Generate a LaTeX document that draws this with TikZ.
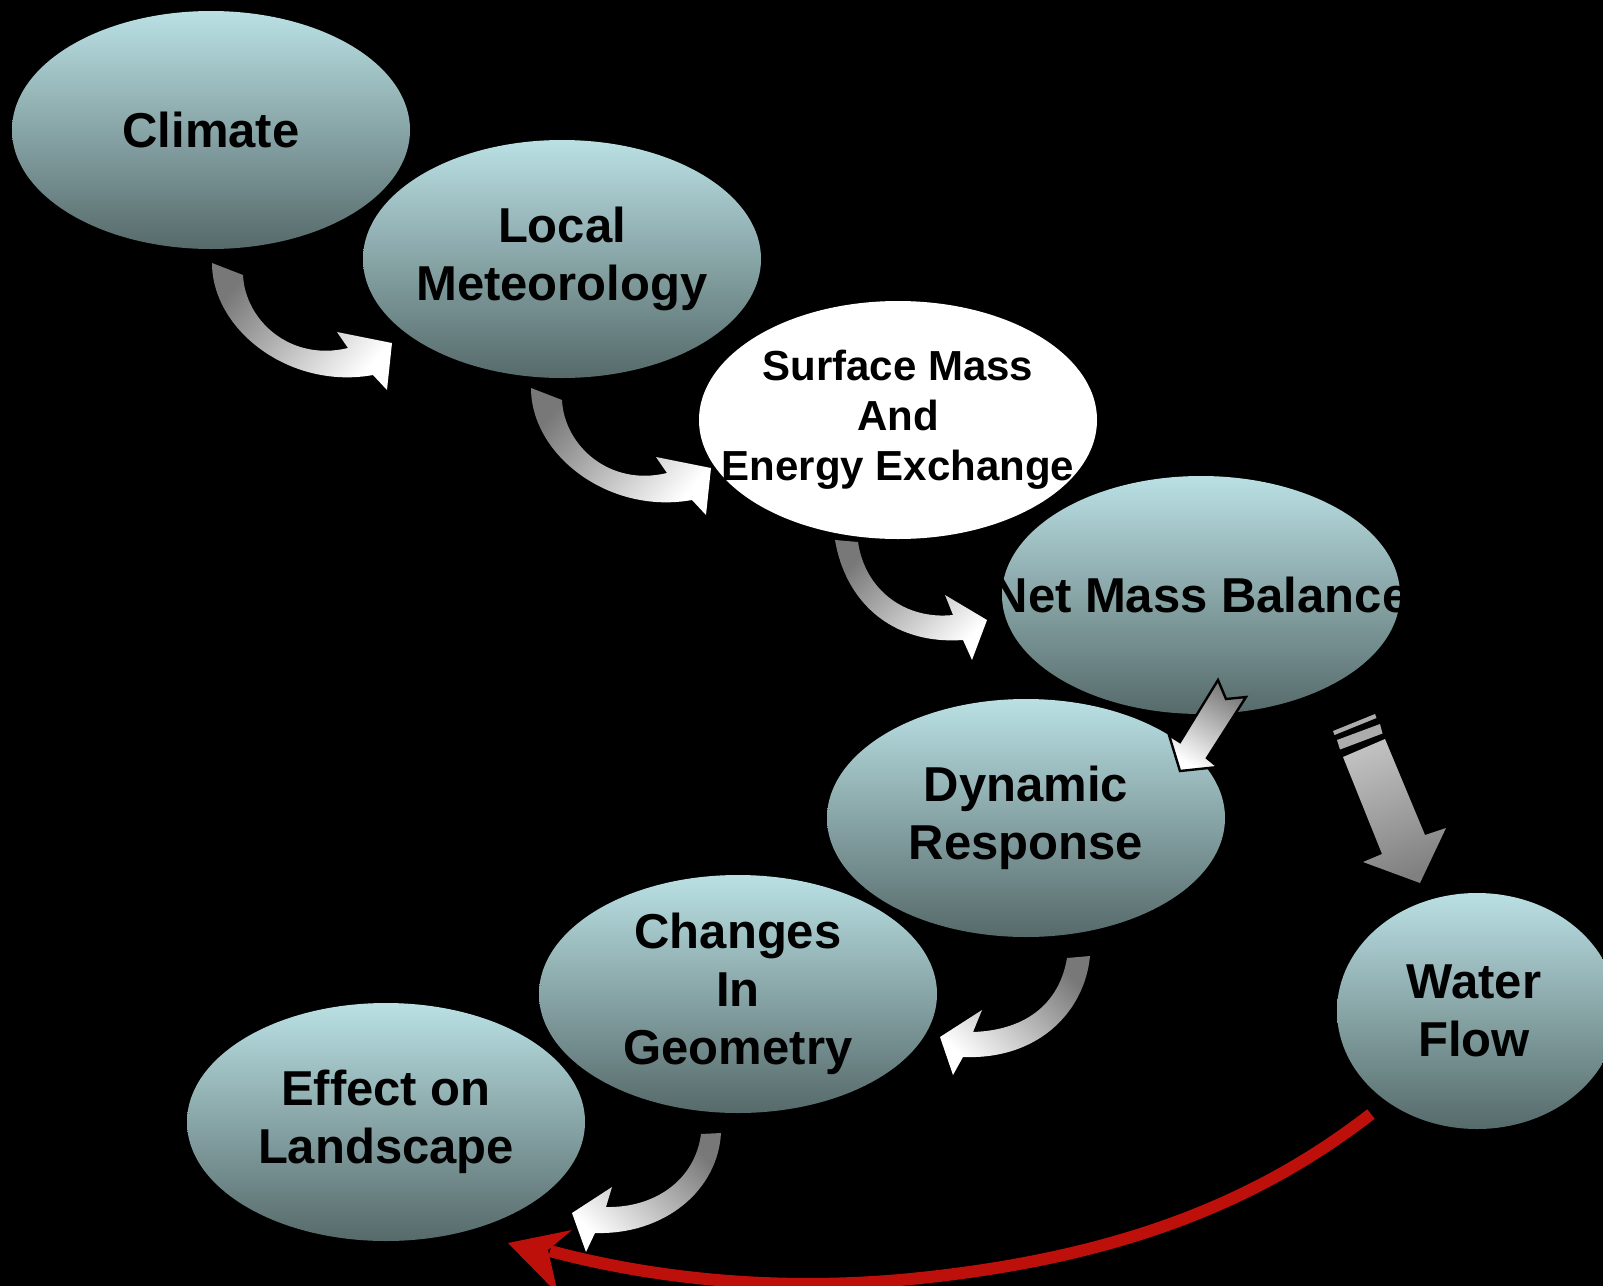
\documentclass[tikz,border=0pt]{standalone}
\usepackage{fontspec}
\setmainfont{Liberation Sans}
\usetikzlibrary{shapes.geometric}
\definecolor{elltop}{RGB}{186,224,228}
\definecolor{ellbot}{RGB}{86,106,106}
\definecolor{arrgray}{RGB}{120,120,120}
\definecolor{biglight}{RGB}{192,192,192}
\definecolor{bigdark}{RGB}{128,128,128}
\definecolor{stripegray}{RGB}{172,172,172}
\definecolor{redc}{RGB}{190,16,10}
\begin{document}
\begin{tikzpicture}[x=0.5pt,y=-0.5pt,
  bub/.style={ellipse, minimum width=199pt, minimum height=119pt, inner sep=0pt, draw=none},
  bubble/.style={bub, top color=elltop, bottom color=ellbot},
  surf/.style={bub, fill=white},
  txt/.style={align=center, inner sep=0pt, font=\fontsize{24.5}{29}\selectfont\bfseries},
  stxt/.style={align=center, inner sep=0pt, font=\fontsize{21}{25}\selectfont\bfseries},
  curvarrow/.style={top color=arrgray, bottom color=white, draw=none},
  redline/.style={draw=redc, line width=6pt},
]
\useasboundingbox (0,0) rectangle (1603,1286);
\fill[black] (0,0) rectangle (1603,1286);
\clip (0,0) rectangle (1603,1286);

% ellipses
\node[bubble] (climate) at (211,130) {};
\node[txt] (climate-t) at (climate) {Climate};
\node[bubble] (local) at (562,259) {};
\node[txt] (local-t) at (local) {Local\\Meteorology};
\node[surf] (surface) at (898,420) {};
\node[stxt] (surface-t) at (surface) {Surface Mass\\And\\Energy Exchange};
\node[bubble] (net) at (1201,595) {};
\node[txt] (net-t) at (net) {Net Mass Balance};
\node[bubble] (dynamic) at (1026,818) {};
\node[txt] (dynamic-t) at (dynamic) {Dynamic\\Response};
\node[bubble] (changes) at (738,994) {};
\node[txt] (changes-t) at (changes) {Changes\\In\\Geometry};
\node[bubble] (effect) at (386,1122) {};
\node[txt] (effect-t) at (effect) {Effect on\\Landscape};
\node[bubble, minimum width=140pt, minimum height=118pt] (water) at (1477,1011) {};
\node[txt] (water-t) at (1474,1011) {Water\\Flow};

% curved block arrows
\path[curvarrow, shading angle=50]
  (212,263) .. controls (212,330) and (290,390) .. (373,375) -- (387,390) -- (392,343)
  -- (337,332) -- (348,348) .. controls (290,362) and (245,320) .. (243,275) -- cycle;
\begin{scope}[shift={(319,125)}]
\path[curvarrow, shading angle=50]
  (212,263) .. controls (212,330) and (290,390) .. (373,375) -- (387,390) -- (392,343)
  -- (337,332) -- (348,348) .. controls (290,362) and (245,320) .. (243,275) -- cycle;
\end{scope}
\path[curvarrow, shading angle=45]
  (835,540) .. controls (845,600) and (890,645) .. (963,640) -- (972,660) -- (987,620)
  -- (945,595) -- (953,615) .. controls (905,620) and (865,590) .. (858,542) -- cycle;
\path[curvarrow, shading angle=-45]
  (1090,956) .. controls (1085,1010) and (1040,1060) .. (963,1057) -- (953,1075) -- (940,1037)
  -- (982,1010) -- (973,1032) .. controls (1030,1030) and (1060,1000) .. (1067,958) -- cycle;
\path[curvarrow, shading angle=-45]
  (721,1133) .. controls (718,1190) and (665,1235) .. (595,1233) -- (586,1252) -- (572,1213)
  -- (612,1187) -- (606,1207) .. controls (655,1208) and (695,1180) .. (701,1134) -- cycle;

% small notched arrow Net -> Dynamic
\path[draw=black, line width=1.2pt, line join=miter, top color=arrgray, bottom color=white, shading angle=-30]
  (1218,680) -- (1226,699) -- (1246,697) -- (1207,758) -- (1218,767) -- (1180,771)
  -- (1169,735) -- (1180,742) -- cycle;

% big striped arrow Net -> Water
\fill[stripegray] (1333,731) -- (1375,714) -- (1376.5,718) -- (1334.5,735) -- cycle;
\fill[stripegray] (1337,740) -- (1380,724) -- (1382.5,733.5) -- (1340,749.5) -- cycle;
\path[top color=biglight, bottom color=bigdark, shading angle=20]
  (1343,757) -- (1385,739) -- (1425,835) -- (1446,828) -- (1420,883) -- (1363,862)
  -- (1382,854) -- cycle;

% red arrow Water -> Effect
\coordinate (wstart) at (1371,1114);
\coordinate (rtip) at (508,1243);
\draw[redline] (wstart) .. controls (1260,1200) and (1120,1260) .. (900,1280)
  .. controls (760,1292) and (640,1275) .. (550,1251);
\fill[redc] (rtip) -- (572,1230) -- (548,1250) -- (558,1294) -- cycle;
\end{tikzpicture}
\end{document}
